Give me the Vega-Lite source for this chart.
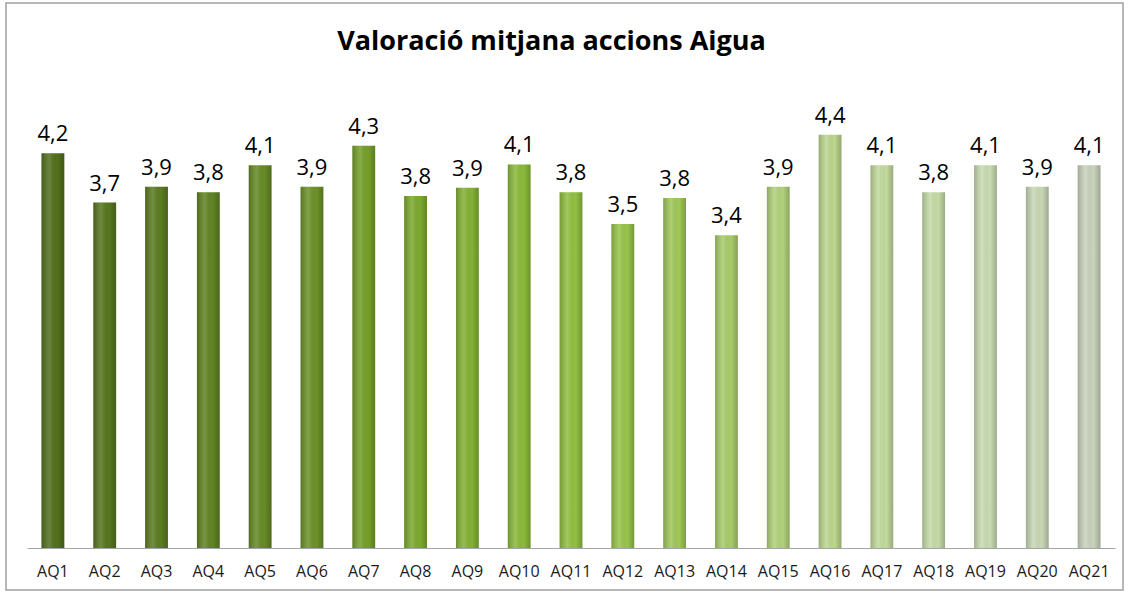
{
  "$schema": "https://vega.github.io/schema/vega-lite/v6.json",
  "autosize": "none",
  "width": 1117,
  "height": 587,
  "padding": {"left": 6, "top": 3, "right": 6, "bottom": 4},
  "background": "white",
  "config": {
    "locale": {"number": {"decimal": ",", "thousands": ".", "grouping": [3], "currency": ["", " €"]}},
    "view": {"stroke": "#a0a0a0", "strokeWidth": 1.5},
    "font": "Open Sans"
  },
  "title": {
    "text": "Valoració mitjana accions Aigua",
    "font": "Open Sans",
    "fontSize": 27,
    "fontWeight": "bold",
    "color": "#000000",
    "orient": "top",
    "anchor": "middle",
    "baseline": "alphabetic",
    "offset": -49,
    "dy": 25,
    "dx": -13
  },
  "data": {
    "values": [
      {"accio": "AQ1", "valor": 4.24},
      {"accio": "AQ2", "valor": 3.71},
      {"accio": "AQ3", "valor": 3.88},
      {"accio": "AQ4", "valor": 3.82},
      {"accio": "AQ5", "valor": 4.11},
      {"accio": "AQ6", "valor": 3.88},
      {"accio": "AQ7", "valor": 4.32},
      {"accio": "AQ8", "valor": 3.78},
      {"accio": "AQ9", "valor": 3.87},
      {"accio": "AQ10", "valor": 4.12},
      {"accio": "AQ11", "valor": 3.82},
      {"accio": "AQ12", "valor": 3.48},
      {"accio": "AQ13", "valor": 3.76},
      {"accio": "AQ14", "valor": 3.36},
      {"accio": "AQ15", "valor": 3.88},
      {"accio": "AQ16", "valor": 4.44},
      {"accio": "AQ17", "valor": 4.11},
      {"accio": "AQ18", "valor": 3.82},
      {"accio": "AQ19", "valor": 4.11},
      {"accio": "AQ20", "valor": 3.88},
      {"accio": "AQ21", "valor": 4.11}
    ]
  },
  "encoding": {
    "x": {
      "field": "accio",
      "type": "nominal",
      "sort": null,
      "scale": {"range": [21, 1109], "paddingInner": 0.56, "paddingOuter": 0.28},
      "axis": {
        "title": null,
        "orient": "bottom",
        "offset": -42,
        "labelAngle": 0,
        "labelFont": "Open Sans",
        "labelFontSize": 16,
        "labelColor": "#1a1a1a",
        "labelPadding": 15,
        "labelBaseline": "top",
        "ticks": false,
        "domain": true,
        "domainColor": "#a6a6a6",
        "domainWidth": 1,
        "grid": false,
        "zindex": 1
      }
    },
    "y": {
      "field": "valor",
      "type": "quantitative",
      "scale": {"domain": [0, 5], "range": [545, 79.5], "nice": false, "zero": true},
      "axis": null
    }
  },
  "layer": [
    {
      "mark": {"type": "bar"},
      "encoding": {
        "color": {
          "field": "accio",
          "type": "nominal",
          "sort": null,
          "legend": null,
          "scale": {
            "range": ["#52701c", "#57761f", "#5c7c22", "#618324", "#678a26", "#6d9229", "#759f2b", "#7caa2f", "#84b235", "#8bba3b", "#91c042", "#98c44b", "#a0c85a", "#a8cc6a", "#b2d27c", "#bcd78e", "#c2da9c", "#c5dba6", "#c8dbb0", "#c9d8b6", "#cad3bc"]
          }
        }
      }
    },
    {
      "mark": {
        "type": "bar",
        "fill": {
          "gradient": "linear",
          "x1": 0, "y1": 0, "x2": 1, "y2": 0,
          "stops": [
            {"offset": 0, "color": "rgba(0,0,0,0.20)"},
            {"offset": 0.35, "color": "rgba(255,255,255,0.14)"},
            {"offset": 0.7, "color": "rgba(0,0,0,0.0)"},
            {"offset": 1, "color": "rgba(0,0,0,0.22)"}
          ]
        }
      }
    },
    {
      "mark": {
        "type": "text",
        "font": "Open Sans",
        "fontSize": 22,
        "color": "#000000",
        "baseline": "alphabetic",
        "dy": -12
      },
      "encoding": {
        "text": {"field": "valor", "type": "quantitative", "format": ".1f"}
      }
    }
  ]
}
